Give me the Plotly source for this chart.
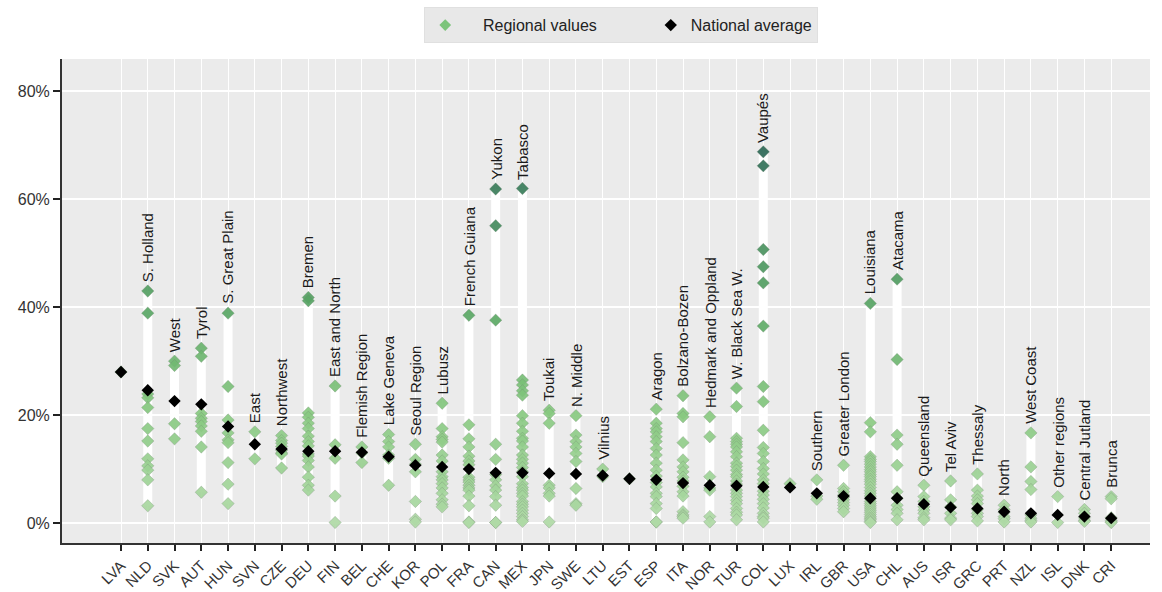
import plotly.graph_objects as go

# Country codes, in display order
countries = ["LVA", "NLD", "SVK", "AUT", "HUN", "SVN", "CZE", "DEU", "FIN", "BEL",
             "CHE", "KOR", "POL", "FRA", "CAN", "MEX", "JPN", "SWE", "LTU", "EST",
             "ESP", "ITA", "NOR", "TUR", "COL", "LUX", "IRL", "GBR", "USA", "CHL",
             "AUS", "ISR", "GRC", "PRT", "NZL", "ISL", "DNK", "CRI"]

# Name of the region with the highest value in each country ("" = no label)
top_region = ["", "S. Holland", "West", "Tyrol", "S. Great Plain", "East", "Northwest",
              "Bremen", "East and North", "Flemish Region", "Lake Geneva", "Seoul Region",
              "Lubusz", "French Guiana", "Yukon", "Tabasco", "Toukai", "N. Middle",
              "Vilnius", "", "Aragon", "Bolzano-Bozen", "Hedmark and Oppland",
              "W. Black Sea W.", "Vaupés", "", "Southern", "Greater London", "Louisiana",
              "Atacama", "Queensland", "Tel Aviv", "Thessaly", "North", "West Coast",
              "Other regions", "Central Jutland", "Brunca"]

# National averages (%)
national_avg = [28.0, 24.6, 22.6, 22.0, 17.9, 14.6, 13.7, 13.3, 13.3, 13.1,
                12.3, 10.7, 10.4, 10.0, 9.3, 9.3, 9.2, 9.1, 8.8, 8.2,
                8.0, 7.4, 7.0, 6.9, 6.7, 6.6, 5.5, 5.0, 4.6, 4.6,
                3.5, 2.9, 2.7, 2.1, 1.8, 1.5, 1.2, 0.9]

# Regional values (%) per country
LVA = [28.0]
NLD = [43.0, 38.9, 23.9, 23.2, 21.4, 17.5, 15.2, 11.9, 10.6, 9.8, 8.0, 3.2]
SVK = [30.0, 29.2, 18.4, 15.6]
AUT = [32.4, 30.9, 20.3, 19.4, 18.8, 18.0, 17.0, 14.1, 5.7]
HUN = [38.9, 25.3, 19.1, 16.7, 15.4, 14.9, 11.2, 7.2, 3.6]
SVN = [16.9, 11.9]
CZE = [16.2, 15.3, 14.8, 14.2, 13.5, 13.0, 12.8, 10.2]
DEU = [41.8, 41.2, 20.4, 19.6, 18.5, 17.5, 16.1, 15.1, 14.3, 12.8, 12.4, 11.6,
       10.4, 8.5, 7.0, 6.1]
FIN = [25.4, 14.5, 12.0, 5.0, 0.1]
BEL = [14.1, 13.0, 11.2]
CHE = [16.4, 15.1, 14.1, 12.6, 12.0, 7.0]
KOR = [14.6, 11.8, 10.9, 9.5, 4.0, 0.7, 0.2]
POL = [22.2, 17.5, 16.0, 15.5, 15.0, 12.6, 11.5, 9.5, 8.6, 8.0, 7.3, 6.5, 5.5,
       4.3, 3.5, 3.0]
FRA = [38.5, 18.2, 15.6, 14.1, 12.4, 11.5, 10.8, 8.5, 8.0, 7.6, 7.0, 6.5, 6.1,
       5.0, 3.2, 0.2, 0.1]
CAN = [61.9, 55.1, 37.6, 14.6, 11.8, 9.0, 8.0, 6.9, 6.1, 4.9, 3.3, 0.1, 0.1]
MEX = [62.0, 26.5, 25.6, 24.5, 23.7, 19.9, 18.5, 17.0, 15.7, 15.2, 14.1, 12.6,
       11.8, 11.1, 10.3, 9.5, 8.6, 7.3, 6.6, 6.1, 5.5, 5.0, 4.0, 3.5, 3.0, 2.4,
       1.8, 1.2, 0.6, 0.3]
JPN = [20.9, 20.3, 18.5, 7.0, 6.5, 5.5, 5.0, 0.2]
SWE = [19.9, 16.3, 15.1, 14.1, 12.9, 11.4, 6.4, 3.6, 3.3]
LTU = [10.0, 8.6]
EST = [8.2]
ESP = [21.1, 18.5, 17.5, 16.9, 16.0, 15.1, 13.8, 12.6, 11.1, 9.8, 8.7, 7.5, 6.7,
       5.5, 4.9, 3.6, 2.7, 0.2, 0.2]
ITA = [23.6, 20.3, 19.7, 14.9, 11.7, 10.4, 9.5, 8.5, 7.8, 6.8, 5.8, 5.0, 2.1,
       1.5, 1.2, 0.9]
NOR = [19.7, 16.0, 8.6, 6.5, 6.1, 1.2, 0.2]
TUR = [25.0, 21.6, 15.7, 15.1, 14.6, 14.1, 13.2, 12.3, 11.1, 10.5, 9.8, 9.0, 8.6,
       7.8, 7.2, 6.1, 5.5, 4.9, 4.2, 3.6, 2.7, 2.0, 1.5, 0.6]
COL = [68.8, 66.2, 50.7, 47.5, 44.5, 36.5, 25.3, 22.5, 17.2, 14.0, 12.9, 11.4,
       10.1, 9.1, 8.0, 7.3, 5.9, 5.2, 4.4, 3.6, 2.8, 1.8, 1.2, 0.9, 0.2]
LUX = [7.3]
IRL = [8.0, 5.0, 4.4]
GBR = [10.7, 6.4, 5.8, 5.2, 4.8, 4.3, 3.8, 3.3, 2.7, 2.1]
USA = [40.7, 18.6, 16.9, 12.3, 11.8, 11.4, 10.9, 10.4, 9.9, 9.5, 9.0, 8.6, 8.1,
       7.7, 7.2, 6.6, 6.0, 5.5, 5.0, 4.5, 4.0, 3.6, 3.2, 2.8, 2.4, 2.0, 1.6, 1.2,
       0.9, 0.6, 0.3, 0.1]
CHL = [45.2, 30.3, 16.3, 14.6, 10.7, 5.8, 4.6, 3.3, 2.5, 1.8, 0.6]
AUS = [7.0, 4.9, 4.0, 3.0, 2.4, 1.8, 1.0, 0.6]
ISR = [7.8, 4.3, 3.0, 1.8, 0.9, 0.6]
GRC = [9.1, 6.1, 5.0, 4.3, 3.6, 2.5, 1.8, 1.2, 0.4]
PRT = [3.3, 2.5, 2.0, 1.2, 0.8, 0.2]
NZL = [16.7, 10.4, 7.7, 6.2, 1.5, 0.9, 0.5, 0.2]
ISL = [4.9, 0.1]
DNK = [2.5, 1.8, 1.0, 0.5, 0.3]
CRI = [4.9, 4.5, 1.0, 0.5, 0.2, 0.1]

regional = [LVA, NLD, SVK, AUT, HUN, SVN, CZE, DEU, FIN, BEL, CHE, KOR, POL, FRA,
            CAN, MEX, JPN, SWE, LTU, EST, ESP, ITA, NOR, TUR, COL, LUX, IRL, GBR,
            USA, CHL, AUS, ISR, GRC, PRT, NZL, ISL, DNK, CRI]

FONT = "Liberation Sans, Arial, sans-serif"
NBSP = "\u00a0"
greens = [[0.0, "#afdaa6"], [0.3, "#86c87f"], [0.55, "#5ba865"],
          [0.85, "#3f845c"], [1.0, "#2c6656"]]

fig = go.Figure()

# White range bars from the lowest to the highest region
bx, by = [], []
for i, vals in enumerate(regional):
    if len(vals) > 1:
        bx += [i, i, None]
        by += [min(vals), max(vals), None]
fig.add_trace(go.Scatter(x=bx, y=by, mode="lines", line=dict(color="white", width=9),
                         hoverinfo="skip", showlegend=False))

# Regional values, shaded by level
rx, ry = [], []
for i, vals in enumerate(regional):
    rx += [i] * len(vals)
    ry += vals
fig.add_trace(go.Scatter(
    x=rx, y=ry, mode="markers", showlegend=False,
    marker=dict(symbol="diamond", size=9.5, color=ry, colorscale=greens,
                cmin=0, cmax=70, opacity=0.92,
                line=dict(color="rgba(110,130,110,0.45)", width=0.7))))

# Legend entries
fig.add_trace(go.Scatter(x=[None], y=[None], mode="markers",
                         name=NBSP * 4 + "Regional values" + NBSP * 11,
                         marker=dict(symbol="diamond", size=9, color="#7cc47a")))
fig.add_trace(go.Scatter(x=list(range(len(countries))), y=national_avg, mode="markers",
                         name="National average",
                         marker=dict(symbol="diamond", size=9.5, color="black")))

# Labels naming the top region
for i, (lab, vals) in enumerate(zip(top_region, regional)):
    if lab:
        fig.add_annotation(x=i, y=max(vals), text=lab, textangle=-90, showarrow=False,
                           xanchor="center", yanchor="bottom", yshift=7,
                           font=dict(family=FONT, size=15, color="#1a1a1a"))

fig.update_layout(
    width=1162, height=592,
    margin=dict(l=62, r=12, t=59, b=49, autoexpand=False),
    paper_bgcolor="white", plot_bgcolor="#ebebeb",
    font=dict(family=FONT, size=14, color="#222"),
    legend=dict(orientation="h", x=0.514, xanchor="center", y=1.107, yanchor="top",
                bgcolor="#e8e8e8", bordercolor="#e0e0e0", borderwidth=1,
                font=dict(family=FONT, size=16, color="#222")),
    xaxis=dict(range=[-2.205, 38.45], tickmode="array", automargin=False,
               tickvals=list(range(len(countries))), ticktext=countries,
               tickangle=-45, ticks="outside", ticklen=6, tickwidth=1.5, tickcolor="#222",
               showline=True, linecolor="#333", linewidth=2,
               showgrid=True, gridcolor="white", gridwidth=1.3, zeroline=False,
               tickfont=dict(family=FONT, size=15, color="#333")),
    yaxis=dict(range=[-3.7, 86], tickvals=[0, 20, 40, 60, 80], automargin=False,
               ticktext=["0%", "20%", "40%", "60%", "80%"],
               ticks="outside", ticklen=7, tickwidth=1.5, tickcolor="#222",
               showline=True, linecolor="#333", linewidth=2,
               showgrid=True, gridcolor="white", gridwidth=1.5, zeroline=False,
               tickfont=dict(family=FONT, size=16, color="#333")),
)

fig.write_html("out.html")
